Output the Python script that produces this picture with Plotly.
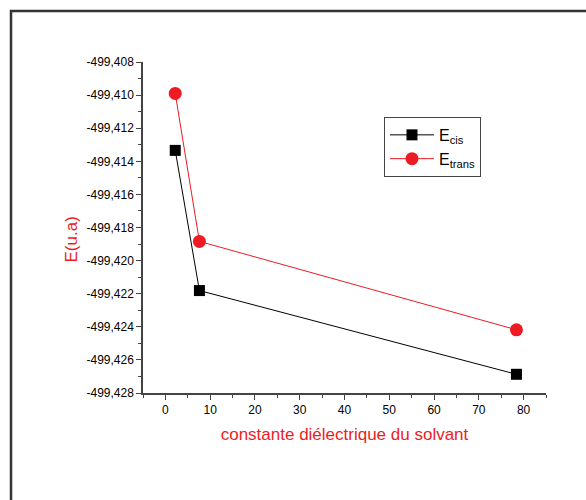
import plotly.graph_objects as go

# Data
eps = [2.2, 7.6, 78.4]
e_cis = [-499.41334, -499.42181, -499.42687]
e_trans = [-499.40990, -499.41884, -499.42418]

y_tickvals = [-499.428, -499.426, -499.424, -499.422, -499.420,
              -499.418, -499.416, -499.414, -499.412, -499.410, -499.408]
y_ticktext = ["-499,428", "-499,426", "-499,424", "-499,422", "-499,420",
              "-499,418", "-499,416", "-499,414", "-499,412", "-499,410", "-499,408"]
x_tickvals = [0, 10, 20, 30, 40, 50, 60, 70, 80]

RED = "#ED1C24"
FONT = "Arial, Liberation Sans, sans-serif"

fig = go.Figure()
fig.add_trace(go.Scatter(
    x=eps, y=e_cis, mode="lines+markers", name="E<sub>cis</sub>",
    line=dict(color="black", width=1),
    marker=dict(symbol="square", size=11, color="black"),
))
fig.add_trace(go.Scatter(
    x=eps, y=e_trans, mode="lines+markers", name="E<sub>trans</sub>",
    line=dict(color=RED, width=1),
    marker=dict(symbol="circle", size=13, color=RED),
))

axis_common = dict(
    showgrid=False, zeroline=False, showline=True, linecolor="#444",
    linewidth=1.5, ticks="outside", ticklen=5, tickwidth=1, tickcolor="#444",
    tickfont=dict(family=FONT, size=12, color="black"),
)

fig.update_layout(
    width=586, height=500,
    paper_bgcolor="white", plot_bgcolor="white",
    margin=dict(l=143, r=40, t=62, b=107),
    font=dict(family=FONT),
    xaxis=dict(
        range=[-5, 85], tickmode="array", tickvals=x_tickvals,
        minor=dict(dtick=5, tick0=0, ticks="outside", ticklen=3, tickcolor="#444"),
        title=dict(text="constante diélectrique du solvant",
                   font=dict(family=FONT, size=17, color=RED), standoff=12),
        **axis_common,
    ),
    yaxis=dict(
        range=[-499.428, -499.408], tickmode="array",
        tickvals=y_tickvals, ticktext=y_ticktext,
        minor=dict(dtick=0.001, tick0=-499.428, ticks="outside", ticklen=3, tickcolor="#444"),
        **axis_common,
    ),
    legend=dict(
        x=0.598, y=0.834, xanchor="left", yanchor="top",
        bordercolor="#444", borderwidth=1, bgcolor="white",
        font=dict(family=FONT, size=16, color="black"),
        itemwidth=44, tracegroupgap=0,
    ),
    annotations=[dict(text="E(u.a)", textangle=-90, xref="paper", yref="paper",
                      x=(71 - 143) / 403, y=1 - (239.5 - 62) / 331,
                      xanchor="center", yanchor="middle", showarrow=False,
                      font=dict(family=FONT, size=17, color=RED))],
    shapes=[dict(type="rect", xref="paper", yref="paper",
                 x0=(11 - 143) / 403, x1=(620 - 143) / 403,
                 y0=(393 - 540) / 331, y1=1 + (62 - 11) / 331,
                 line=dict(color="#333", width=2.5))],
)

fig.write_html("out.html")
